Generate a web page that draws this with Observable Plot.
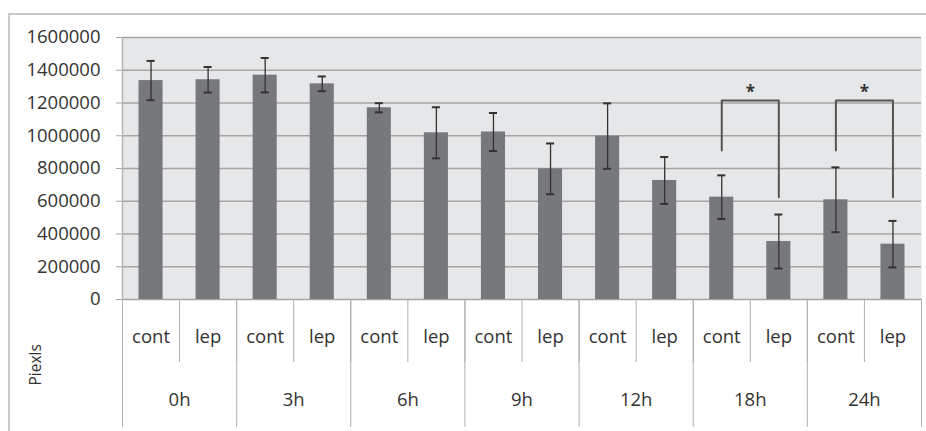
<!DOCTYPE html>
<html><head><meta charset="utf-8">
<script src="https://cdn.jsdelivr.net/npm/d3@7"></script>
<script src="https://cdn.jsdelivr.net/npm/@observablehq/plot@0.6"></script>
<style>
body{margin:0;background:#fff;}
#wrap{position:relative;width:926px;height:431px;overflow:hidden;}
#border{position:absolute;left:8px;top:13px;width:960px;height:500px;border:2px solid #c9c9c9;box-sizing:border-box;}
#chart{position:absolute;left:0;top:0;}
</style></head><body>
<div id="wrap"><div id="border"></div><div id="chart"></div></div>
<script>
const times = ["0h","3h","6h","9h","12h","18h","24h"];
const treatments = ["cont","lep"];
const contMean = [1337000,1370000,1171000,1023000,998000,625000,609000];
const contErr  = [120000,105000,28000,116000,200000,133000,198000];
const lepMean  = [1342000,1317000,1018000,798000,727000,354000,338000];
const lepErr   = [78000,45000,156000,155000,143000,165000,142000];
const yTicks = [0,200000,400000,600000,800000,1000000,1200000,1400000,1600000];
const yLabel = "Piexls";
const sigTimes = ["18h","24h"];
const sigTop = [1215000,1215000];
const sigContEnd = [910000,910000];
const sigLepEnd = [625000,625000];
const sigMark = ["*","*"];

const rows = times.flatMap((t,j)=>[
  {i:2*j, time:t, treatment:treatments[0], mean:contMean[j], err:contErr[j]},
  {i:2*j+1, time:t, treatment:treatments[1], mean:lepMean[j], err:lepErr[j]}
]);
const groups = times.map((t,j)=>({t, c:2*j+1}));
const brackets = sigTimes.flatMap((t,k)=>{
  const j = times.indexOf(t);
  return [
    {k, x:2*j+0.5, y:sigContEnd[k]},
    {k, x:2*j+0.5, y:sigTop[k]},
    {k, x:2*j+1.5, y:sigTop[k]},
    {k, x:2*j+1.5, y:sigLepEnd[k]}
  ];
});
const stars = sigTimes.map((t,k)=>({x:2*times.indexOf(t)+1, y:sigTop[k], s:sigMark[k]}));
const n = rows.length;
const ink = "#333";

const chart = Plot.plot({
  width: 926, height: 431,
  marginLeft: 122, marginRight: 5, marginTop: 37, marginBottom: 132,
  x: {type:"linear", domain:[0,n], axis:null},
  y: {domain:[0,1600000], axis:null},
  style: {fontFamily:"'Open Sans', sans-serif", fontSize:"18.5px", color:ink, background:"transparent"},
  marks: [
    Plot.frame({fill:"#e6e7e9", stroke:null}),
    Plot.gridY(yTicks, {stroke:"#a5a5a5", strokeOpacity:1, strokeWidth:1.4}),
    Plot.axisY(yTicks, {tickSize:6, tickPadding:16, tickFormat:d3.format("d"), stroke:"#a5a5a5", fontSize:18.5, fill:ink}),
    Plot.ruleX([0], {stroke:"#b5b5b5", strokeWidth:1.5}),
    Plot.rectY(rows, {x1:"i", x2:d=>d.i+1, y:"mean", fill:"#77787b", insetLeft:16.5, insetRight:16.5}),
    Plot.ruleX(rows, {x:d=>d.i+0.5, y1:d=>d.mean-d.err, y2:d=>d.mean+d.err, stroke:"#333", strokeWidth:1.3}),
    Plot.ruleY(rows, {x1:"i", x2:d=>d.i+1, y:d=>d.mean+d.err, insetLeft:24.5, insetRight:24.5, stroke:"#333", strokeWidth:2}),
    Plot.ruleY(rows, {x1:"i", x2:d=>d.i+1, y:d=>d.mean-d.err, insetLeft:24.5, insetRight:24.5, stroke:"#333", strokeWidth:2}),
    Plot.line(brackets, {x:"x", y:"y", z:"k", stroke:"#555", strokeWidth:2, curve:"linear"}),
    Plot.text(stars, {x:"x", y:"y", text:"s", dy:-8, fontSize:17, fontWeight:"bold", fill:"#333"}),
    Plot.axisX(d3.range(0, n+1), {anchor:"bottom", tickSize:63, tickFormat:()=>"", stroke:"#b0b0b0"}),
    Plot.axisX(d3.range(0, n+1, 2), {anchor:"bottom", tickSize:128, tickFormat:()=>"", stroke:"#b0b0b0"}),
    Plot.text(rows, {x:d=>d.i+0.5, text:"treatment", frameAnchor:"bottom", dy:43, fill:ink}),
    Plot.text(groups, {x:"c", text:"t", frameAnchor:"bottom", dy:106, fill:ink}),
    Plot.text([yLabel], {text:d=>d, frameAnchor:"bottom-left", dx:-82, dy:86, rotate:-90, fontSize:15.5, fill:ink})
  ]
});
document.getElementById("chart").appendChild(chart);
</script>
</body></html>
